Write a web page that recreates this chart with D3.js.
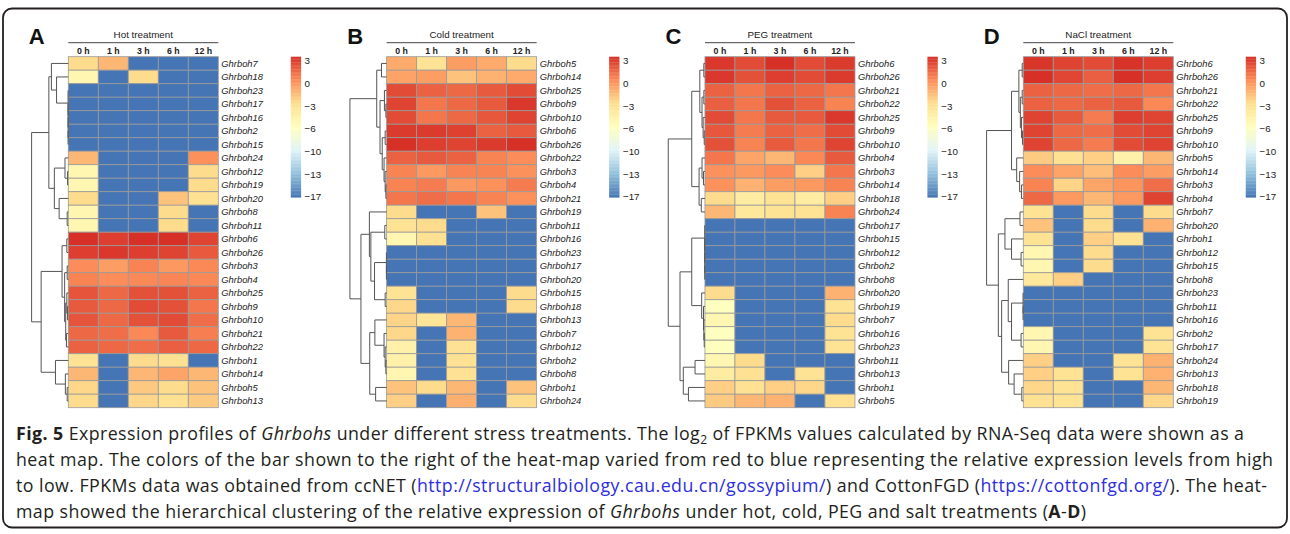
<!DOCTYPE html>
<html>
<head>
<meta charset="utf-8">
<script src="https://cdn.jsdelivr.net/npm/d3@7"></script>
<style>
  html, body { margin: 0; padding: 0; background: #fff; }
  svg { display: block; }
</style>
</head>
<body>
<script>
// ---- data ----
const timepoints = ["0 h", "1 h", "3 h", "6 h", "12 h"];
const legendTicks = [3, 0, -3, -6, -10, -13, -17];
const valueRange = [-17, 3];
const panelLetters = ["A", "B", "C", "D"];
const panelTitles = ["Hot treatment", "Cold treatment", "PEG treatment", "NaCl treatment"];

// trees: [height, left, right], leaves are gene numbers; heights in % of root
const hotGenes = [7, 18, 23, 17, 16, 2, 15, 24, 12, 19, 20, 8, 11, 6, 26, 3, 4, 25, 9, 10, 21, 22, 1, 14, 5, 13];
const hotValues = [
  [-3.5, -2, -17, -17, -17], [-6, -17, -3.5, -17, -17],
  [-17, -17, -17, -17, -17], [-17, -17, -17, -17, -17], [-17, -17, -17, -17, -17],
  [-17, -17, -17, -17, -17], [-17, -17, -17, -17, -17],
  [-2, -17, -17, -17, -0.5], [-6, -17, -17, -17, -3.5], [-6, -17, -17, -17, -3.5],
  [-3.5, -17, -17, -2.5, -3.8], [-6, -17, -17, -3.5, -17], [-6, -17, -17, -3.5, -17],
  [3, 2.5, 3, 3, 2.3], [2.5, 2.7, 2.5, 2.3, 1.5], [-0.3, -1, 0, -0.8, -0.2],
  [0, -0.3, -0.2, -0.1, -0.2], [1.7, 1, 1.8, 1.8, 1.2], [1.5, 1, 2, 1.8, 0.5],
  [1.7, 1, 1.8, 2, 0.8], [1, 0.8, -0.2, 1.5, 0.2], [1.2, 1, 0.8, 1.3, 1],
  [-4, -17, -3.5, -3.8, -17], [-2, -17, -2, -1.3, -2], [-3.3, -17, -2.7, -3.5, -2.5],
  [-3.5, -17, -3.3, -3.8, -2.8]
];
const hotTree = [100,
  [53,
    [46, 7, [32, 18, [0.6, 23, [0.6, 17, [0.6, 16, [0.6, 2, 15]]]]]],
    [38, [9, 24, [2, 12, 19]], [25, 20, [3, 8, 11]]]],
  [74,
    [17, [4, 6, 26], [10, [3, 3, 4], [7, [4, 25, [2, 9, 10]], [5, 21, 22]]]],
    [35, 1, [8, 14, [3, 5, 13]]]]];

const coldGenes = [5, 14, 25, 9, 10, 6, 26, 22, 3, 4, 21, 19, 11, 16, 23, 17, 20, 15, 18, 13, 7, 12, 2, 8, 1, 24];
const coldValues = [
  [-1.5, -4, -1, -1.5, -3.5], [-1.2, -1, -2.5, -1.8, -1.5],
  [2, 1.2, 1, 1.5, 2], [2.3, 0.5, 1, 1.5, 2.7], [2, 0.5, 1, 1.6, 2.3],
  [2.6, 2.6, 2.4, 1.2, 1.5], [3, 2.5, 2.3, 2.6, 3], [1.2, 1.5, 1.2, 0, -0.3],
  [0, -0.8, 0, 0, -0.5], [0, 0.3, -0.8, -0.5, 0.3], [0.5, 0.8, 0.5, 0, -0.5],
  [-3.5, -17, -17, -2.5, -17], [-4, -3.5, -17, -17, -17], [-6, -3.8, -17, -17, -17],
  [-17, -17, -17, -17, -17], [-17, -17, -17, -17, -17], [-17, -17, -17, -17, -17],
  [-4, -17, -17, -17, -3.5], [-3.3, -17, -17, -17, -3.5],
  [-3.2, -4.2, -2, -17, -17], [-3.3, -17, -1.8, -17, -17], [-5.5, -17, -3.8, -17, -17],
  [-5.5, -17, -3.8, -17, -17], [-6, -17, -3.8, -17, -17],
  [-2.5, -3.5, -2, -17, -2.5], [-3, -17, -1.7, -17, -3.5]
];
const coldTree = [100,
  [27, [14, 5, 14],
    [18, [6, 25, [2, 9, 10]], [12, [4, 6, 26], [7, 22, [4, 3, [2, 4, 21]]]]]],
  [70,
    [47, 19, [43, [5, 11, 16], [33, [0.6, 23, [0.6, 17, 20]], [4, 15, 18]]]],
    [46, [32, 13, [7, 7, [4, 12, [2, 2, 8]]]], [30, 1, 24]]]];

const pegGenes = [6, 26, 21, 22, 25, 9, 10, 4, 3, 14, 18, 24, 17, 15, 12, 2, 8, 20, 19, 7, 16, 23, 11, 13, 1, 5];
const pegValues = [
  [2.7, 2, 3, 2, 2.6], [2.7, 1.8, 2.5, 2, 2.6], [1.2, 0.5, 1.2, 1, 0.5],
  [1.3, 0.5, 1.8, 1.2, 0], [2, 0.5, 1.5, 1.5, 2.7], [1.6, 0.3, 1.2, 0.8, 2],
  [1.8, 0, 1.5, 0.5, 2.3], [0.5, -1.3, -2, -0.2, 1.5], [-0.5, -0.8, -0.3, -3, 0.5],
  [-0.5, -1.8, -1, -0.8, 0], [-3.5, -5, -4, -5, -3], [-2, -4.5, -4, -4, 0],
  [-17, -17, -17, -17, -17], [-17, -17, -17, -17, -17], [-17, -17, -17, -17, -17],
  [-17, -17, -17, -17, -17], [-17, -17, -17, -17, -17],
  [-3.5, -17, -17, -17, -1.8], [-7, -17, -17, -17, -4], [-6, -17, -17, -17, -3.5],
  [-7, -17, -17, -17, -4], [-7, -17, -17, -17, -4],
  [-6, -3.5, -17, -17, -17], [-5, -3.8, -17, -4, -17], [-3, -3.8, -3, -3.3, -17],
  [-2.8, -2, -1.8, -17, -3.8]
];
const pegTree = [100,
  [36,
    [14, [3, 6, 26], [8, [3, 21, 22], [5, 25, [2, 9, 10]]]],
    [16, [8, 4, [4, 3, 14]], [10, 18, 24]]],
  [68,
    [36, [0.6, 17, [0.6, 15, [0.6, 12, [0.6, 2, 8]]]], [9, 20, [4, 19, [3, 7, [2, 16, 23]]]]],
    [59, [27, 11, 13], [45, 1, 5]]]];

const naclGenes = [6, 26, 21, 22, 25, 9, 10, 5, 14, 3, 4, 7, 20, 1, 12, 15, 8, 23, 11, 16, 2, 17, 24, 13, 18, 19];
const naclValues = [
  [2.8, 2.3, 2, 2.9, 2.5], [3, 2.2, 1.3, 3, 2.5], [1.2, 1, 0.8, 1, 0.5],
  [1.2, 1, 1.2, 1.5, -0.2], [2.3, 1.5, 0.3, 2.5, 2.3], [2.3, 1, 0.8, 2, 2.3],
  [2.3, 1, 0.3, 2, 2.3], [-2.8, -3.8, -3, -5.5, -2], [-0.3, -1.3, -2.3, -0.3, -1],
  [0, -3.2, -1.3, -0.6, 0.8], [1, -0.8, -2, -0.8, 2.3],
  [-4, -17, -3.5, -17, -3.5], [-2.5, -17, -3.5, -17, -1.8], [-4, -17, -3, -4, -17],
  [-6, -17, -3.5, -17, -17], [-6, -17, -3.5, -17, -17], [-4.5, -3, -17, -17, -17],
  [-17, -17, -17, -17, -17], [-17, -17, -17, -17, -17], [-17, -17, -17, -17, -17],
  [-6, -17, -17, -17, -4], [-6, -17, -17, -17, -4],
  [-3, -17, -17, -4, -1.8], [-3, -4, -17, -4, -1.8], [-3.3, -4, -17, -17, -2],
  [-3.8, -4, -17, -17, -3.3]
];
const naclTree = [100,
  [32,
    [12, [3, 6, 26], [8, [3, 21, 22], [5, 25, [2, 9, 10]]]],
    [18, 5, [10, 14, [5, 3, 4]]]],
  [68,
    [50, [9, 7, 20], [32, 1, [6, 12, 15]]],
    [59,
      [41, 8, [32, [0.6, 23, [0.6, 11, 16]], [6, 2, 17]]],
      [40, 24, [25, 13, [4, 18, 19]]]]]];

const panels = [
  { genes: hotGenes, values: hotValues, tree: hotTree },
  { genes: coldGenes, values: coldValues, tree: coldTree },
  { genes: pegGenes, values: pegValues, tree: pegTree },
  { genes: naclGenes, values: naclValues, tree: naclTree }
];

const captionLines = [
  [["Fig. 5", "b"], [" Expression profiles of "], ["Ghrbohs", "i"], [" under different stress treatments. The log"], ["2", "sub"], [" of FPKMs values calculated by RNA-Seq data were shown as a"]],
  [["heat map. The colors of the bar shown to the right of the heat-map varied from red to blue representing the relative expression levels from high"]],
  [["to low. FPKMs data was obtained from ccNET ("], ["http://structuralbiology.cau.edu.cn/gossypium/", "link"], [") and CottonFGD ("], ["https://cottonfgd.org/", "link"], ["). The heat-"]],
  [["map showed the hierarchical clustering of the relative expression of "], ["Ghrbohs", "i"], [" under hot, cold, PEG and salt treatments ("], ["A", "b"], ["-"], ["D", "b"], [")"]]
];
// measured width of each caption line in the figure
const captionWidths = [1228, 1257, 1251, 1070];

// ---- layout ----
const width = 1290, height = 534;
const panelStep = 318.33;
const cellsLeft0 = 68.3;
const cellsTop = 56.7;
const cellW = 30, cellH = 13.5;
const treeWidth = 36.7;
const legendGap = 222.5;
const font = "'Liberation Sans', Arial, sans-serif";

const svg = d3.select("body").append("svg")
  .attr("width", width)
  .attr("height", height);

// outer frame
svg.append("rect")
  .attr("x", 3).attr("y", 8.5)
  .attr("width", width - 6).attr("height", 519)
  .attr("rx", 9)
  .attr("fill", "none")
  .attr("stroke", "#231f20")
  .attr("stroke-width", 1.8);

const palette = d3.schemeRdYlBu[7].slice().reverse();
const color = d3.scaleLinear()
  .domain(palette.map((c, i) => valueRange[0] + i * (valueRange[1] - valueRange[0]) / (palette.length - 1)))
  .range(palette);

panels.forEach((p, pi) => {
  const left = cellsLeft0 + pi * panelStep;
  const g = svg.append("g");

  const x = d3.scaleBand().domain(timepoints).range([left, left + cellW * timepoints.length]);
  const y = d3.scaleBand().domain(p.genes).range([cellsTop, cellsTop + cellH * p.genes.length]);

  // panel letter
  g.append("text")
    .attr("x", left - 39.5).attr("y", 43.5)
    .attr("font-family", font).attr("font-weight", "bold")
    .attr("font-size", 22).attr("fill", "#111")
    .text(panelLetters[pi]);

  // title + underline
  g.append("text")
    .attr("x", (x.range()[0] + x.range()[1]) / 2).attr("y", 37.5)
    .attr("text-anchor", "middle")
    .attr("font-family", font).attr("font-size", 9.8).attr("fill", "#222")
    .text(panelTitles[pi]);
  g.append("line")
    .attr("x1", x.range()[0]).attr("x2", x.range()[1])
    .attr("y1", 42.7).attr("y2", 42.7)
    .attr("stroke", "#444").attr("stroke-width", 1);

  // column labels
  g.selectAll("text.col")
    .data(timepoints)
    .enter().append("text")
    .attr("class", "col")
    .attr("x", d => x(d) + x.bandwidth() / 2)
    .attr("y", 53.8)
    .attr("text-anchor", "middle")
    .attr("font-family", font).attr("font-size", 8.8)
    .attr("font-weight", "bold").attr("fill", "#222")
    .text(d => d);

  // cells
  const cells = [];
  p.genes.forEach((gene, r) => {
    timepoints.forEach((t, c) => cells.push({ gene, t, v: p.values[r][c] }));
  });
  g.selectAll("rect.cell")
    .data(cells)
    .enter().append("rect")
    .attr("class", "cell")
    .attr("x", d => x(d.t))
    .attr("y", d => y(d.gene))
    .attr("width", x.bandwidth())
    .attr("height", y.bandwidth())
    .attr("fill", d => color(d.v))
    .attr("stroke", "#9a9a9a")
    .attr("stroke-width", 0.8);

  // row labels
  g.selectAll("text.row")
    .data(p.genes)
    .enter().append("text")
    .attr("class", "row")
    .attr("x", x.range()[1] + 3)
    .attr("y", d => y(d) + y.bandwidth() / 2 + 3.3)
    .attr("font-family", font).attr("font-size", 9.4)
    .attr("font-style", "italic").attr("fill", "#222")
    .text(d => "Ghrboh" + d);

  // dendrogram
  const root = d3.hierarchy(p.tree, d => Array.isArray(d) ? d.slice(1) : null);
  const hx = d3.scaleLinear().domain([0, 100]).range([left, left - treeWidth]);
  const ht = n => Array.isArray(n.data) ? n.data[0] : 0;
  root.eachAfter(n => {
    n.py = n.children ? d3.mean(n.children, c => c.py) : y(n.data) + y.bandwidth() / 2;
  });
  const links = root.descendants().filter(n => n.children);
  g.selectAll("path.tree")
    .data(links)
    .enter().append("path")
    .attr("class", "tree")
    .attr("fill", "none")
    .attr("stroke", "#555")
    .attr("stroke-width", 1)
    .attr("d", n => {
      const [a, b] = n.children;
      const xn = hx(ht(n));
      return `M${hx(ht(a))},${a.py}H${xn}V${b.py}H${hx(ht(b))}`;
    });

  // colour legend
  const lx = left + legendGap;
  const ly = d3.scaleLinear().domain(valueRange).range([197.3, 56.7]);
  const steps = d3.range(100).map(i => valueRange[0] + i * (valueRange[1] - valueRange[0]) / 100);
  const stepH = (valueRange[1] - valueRange[0]) / 100;
  g.selectAll("rect.leg")
    .data(steps)
    .enter().append("rect")
    .attr("class", "leg")
    .attr("x", lx).attr("width", 10.3)
    .attr("y", d => ly(d + stepH))
    .attr("height", d => ly(d) - ly(d + stepH) + 0.3)
    .attr("fill", d => color(d + stepH / 2));

  const labelPos = d3.scaleLinear()
    .domain(legendTicks)
    .range(legendTicks.map((d, i) => 60.7 + i * (196.7 - 60.7) / (legendTicks.length - 1)));
  const axis = g.append("g")
    .attr("transform", `translate(${lx + 10.3},0)`)
    .call(d3.axisRight(labelPos).tickValues(legendTicks).tickSize(0).tickPadding(3.5).tickFormat(d3.format("d")));
  axis.select(".domain").remove();
  axis.selectAll("text")
    .attr("font-family", font).attr("font-size", 9.8).attr("fill", "#222");
});

// caption
const cap = svg.append("g")
  .attr("font-family", "'Open Sans', sans-serif")
  .attr("font-size", 17.8)
  .attr("fill", "#231f20");
captionLines.forEach((line, li) => {
  const t = cap.append("text")
    .attr("x", 16)
    .attr("y", 440 + li * 26)
    .attr("textLength", captionWidths[li])
    .attr("lengthAdjust", "spacing");
  line.forEach(([s, kind], i) => {
    const ts = t.append("tspan").text(s);
    if (kind === "b") ts.attr("font-weight", "bold");
    if (kind === "i") ts.attr("font-style", "italic");
    if (kind === "link") ts.attr("fill", "#2e2ee0");
    if (kind === "sub") ts.attr("font-size", 12).attr("dy", 4);
    if (i > 0 && line[i - 1][1] === "sub") ts.attr("dy", -4);
  });
});
</script>
</body>
</html>
